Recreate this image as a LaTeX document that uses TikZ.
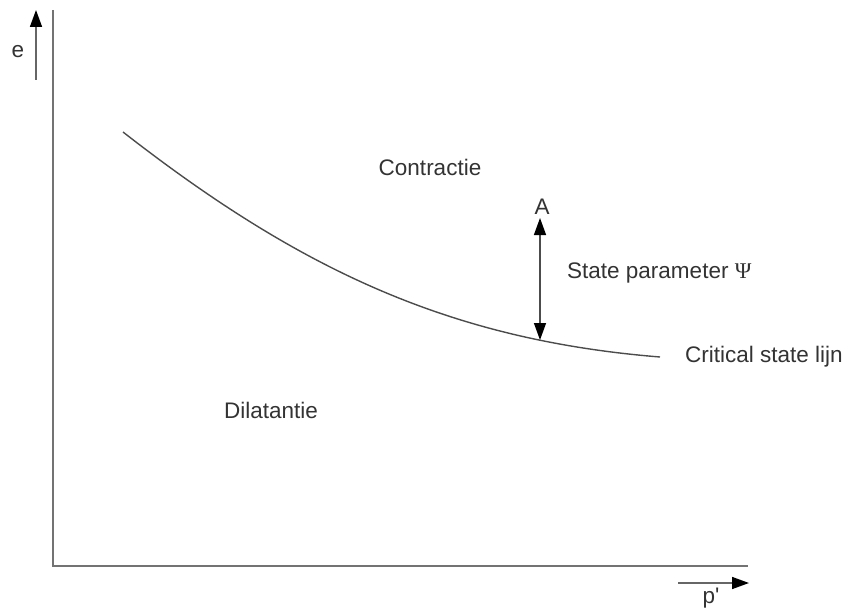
\documentclass[tikz,border=0pt]{standalone}
\usepackage{fontspec}
\setmainfont{Liberation Sans}
\newfontfamily\psifont{Liberation Serif}
\newfontfamily\plainsans{Liberation Sans}
\usetikzlibrary{arrows.meta}
\begin{document}
\begin{tikzpicture}[x=1pt,y=-1pt,
  tip/.tip={Triangle[length=17pt,width=12pt,fill=black,color=black]},
  axis/.style={draw=black!55,line width=2pt},
  arr/.style={draw=black!60,line width=1.6pt,-tip},
  dbl/.style={draw=black!70,line width=1.4pt,tip-tip},
  lbl/.style={font=\fontsize{22.5}{26}\selectfont,text=black!80,inner sep=0pt},
  curve/.style={draw=black!70,line width=1.4pt}]
\useasboundingbox (0,0) rectangle (846,610);
% axes
\coordinate (top) at (53,10);
\coordinate (origin) at (53,566);
\coordinate (right) at (748,566);
\draw[axis] (top) -- (origin) -- (right);
% e arrow
\coordinate (e0) at (36,80);
\coordinate (e1) at (36,10);
\draw[arr] (e0) -- (e1);
\node[lbl] (elbl) at (18,52) {e};
% p' arrow
\coordinate (p0) at (678,583);
\coordinate (p1) at (749,583);
\draw[arr] (p0) -- (p1);
\node[lbl] (plbl) at (711,598) {\plainsans p'};
% critical state curve
\coordinate (c0) at (123,132);
\coordinate (c1) at (660,357);
\coordinate (cA) at (540,340);
\draw[curve] (c0) .. controls (300,270) and (450,340) .. (c1);
% state parameter arrow
\coordinate (Atop) at (540,218);
\draw[dbl] (Atop) -- (cA);
\node[lbl] (A) at (542,207) {A};
\node[lbl,anchor=west] (psi) at (567,273) {State parameter {\psifont Ψ}};
\node[lbl,anchor=west] (csl) at (685,357) {Critical state lijn};
\node[lbl] (con) at (430,167) {Contractie};
\node[lbl] (dil) at (271,410) {Dilatantie};
\end{tikzpicture}
\end{document}
